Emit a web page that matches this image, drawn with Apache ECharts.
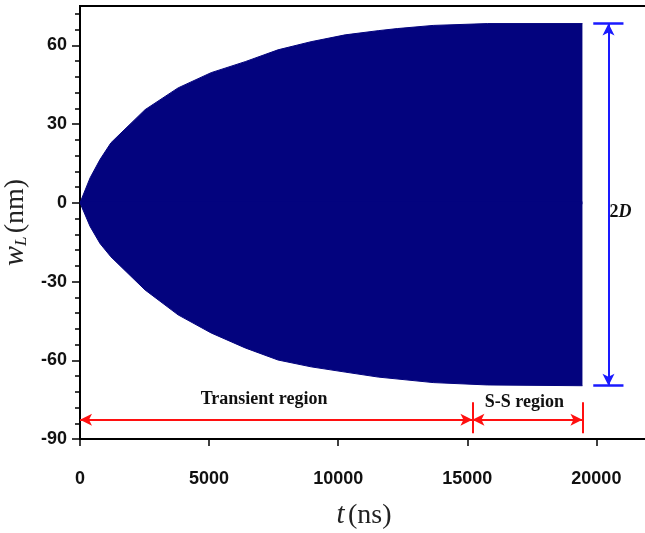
<!DOCTYPE html>
<html>
<head>
<meta charset="utf-8">
<script src="https://cdn.jsdelivr.net/npm/echarts@6/dist/echarts.min.js"></script>
<style>
html,body{margin:0;padding:0;background:#fff;}
#c{width:645px;height:533px;}
</style>
</head>
<body>
<div id="c"></div>
<script>
// Upper envelope of w_L (nm) vs t (ns)
const tUpper = [0, 390, 775, 1200, 2520, 3800, 5080, 6400, 7670, 8950, 10270, 11550, 12290, 13680, 15780, 19460];
const wUpper = [0, 9.5, 16.5, 22.9, 35.5, 43.8, 49.6, 53.8, 58.3, 61.4, 64.0, 65.6, 66.4, 67.6, 68.3, 68.3];
// Lower envelope
const tLower = [0, 390, 775, 1200, 2520, 3800, 5080, 6400, 7670, 8950, 10270, 11550, 13680, 15780, 19460];
const wLower = [0, -9, -15.5, -20.6, -33.2, -42.7, -49.6, -55.3, -59.9, -62.5, -64.5, -66.4, -68.5, -69.4, -69.7];
// Axis ticks
const xTicks = [0, 5000, 10000, 15000, 20000];
const yTicks = [-90, -60, -30, 0, 30, 60];
const yMinorTicks = [-84,-78,-72,-66,-54,-48,-42,-36,-24,-18,-12,-6,6,12,18,24,36,42,48,54,66,72];
// Axis ranges
const xMin = 0, xMax = 22000, yMin = -90, yMax = 75;
// Annotations
const transientStart = 0, transientEnd = 15200, ssEnd = 19460, regionArrowY = -82.7;
const regionBarTop = -76, regionBarBottom = -87.8;
const ampTop = 68.3, ampBottom = -69.7, ampArrowT = 20470, capStart = 19880, capEnd = 21050;

const serif = 'Liberation Serif, Times New Roman, serif';
const sans = 'Liberation Sans, Arial, sans-serif';
const chart = echarts.init(document.getElementById('c'), null, {renderer: 'canvas'});
const navy = '#03037e';
const red = '#ff1010';
const blue = '#1a1aff';

chart.setOption({
  animation: false,
  grid: {left: 80, right: -3, top: 6, bottom: 94, show: true, borderColor: '#000', borderWidth: 2,
         backgroundColor: 'transparent', containLabel: false, outerBoundsMode: 'none'},
  xAxis: [{
    type: 'value', min: xMin, max: xMax, interval: 5000,
    name: '{i|t} {n|(ns)}', nameLocation: 'middle', nameGap: 62,
    nameTextStyle: {rich: {
      i: {fontFamily: serif, fontStyle: 'italic', fontSize: 29, color: '#222'},
      n: {fontFamily: serif, fontSize: 28, color: '#222'}
    }},
    axisLine: {show: true, onZero: false, lineStyle: {color: '#000', width: 2}},
    axisTick: {show: true, inside: false, length: 7, lineStyle: {color: '#000', width: 1.5}, customValues: xTicks},
    axisLabel: {customValues: xTicks, margin: 31, fontFamily: sans, fontWeight: 'bold', fontSize: 18, color: '#111',
                formatter: v => String(v)},
    splitLine: {show: false}
  }, {
    type: 'value', min: xMin, max: xMax, position: 'top',
    axisLine: {show: true, onZero: false, lineStyle: {color: '#000', width: 2}},
    axisTick: {show: false}, axisLabel: {show: false}, splitLine: {show: false}
  }],
  yAxis: [{
    type: 'value', min: yMin, max: yMax, interval: 30,
    name: '{i|w}{s|L} {n|(nm)}', nameLocation: 'middle', nameGap: 46, nameRotate: 90,
    nameTextStyle: {rich: {
      i: {fontFamily: serif, fontStyle: 'italic', fontSize: 30, color: '#222', verticalAlign: 'bottom', lineHeight: 34},
      s: {fontFamily: serif, fontStyle: 'italic', fontSize: 17, color: '#222', verticalAlign: 'bottom', lineHeight: 25},
      n: {fontFamily: serif, fontSize: 28, color: '#222', verticalAlign: 'bottom', lineHeight: 34}
    }},
    axisLine: {show: true, onZero: false, lineStyle: {color: '#000', width: 2}},
    axisTick: {show: true, inside: false, length: 8, lineStyle: {color: '#000', width: 1.5}, customValues: yTicks},
    axisLabel: {customValues: yTicks, margin: 13, fontFamily: sans, fontWeight: 'bold', fontSize: 18, color: '#111',
                formatter: v => String(v)},
    splitLine: {show: false}
  }, {
    type: 'value', min: yMin, max: yMax, position: 'left',
    axisLine: {show: false, onZero: false},
    axisTick: {show: true, inside: false, length: 5, lineStyle: {color: '#000', width: 1.5}, customValues: yMinorTicks},
    axisLabel: {show: false},
    splitLine: {show: false}
  }],
  series: [{
    type: 'line', name: 'upper',
    data: tUpper.map((t, i) => [t, wUpper[i]]),
    smooth: false, showSymbol: false, symbol: 'none',
    lineStyle: {color: navy, width: 1},
    areaStyle: {color: navy, opacity: 1, origin: -0.5},
    z: 2
  }, {
    type: 'line', name: 'lower',
    data: tLower.map((t, i) => [t, wLower[i]]),
    smooth: false, showSymbol: false, symbol: 'none',
    lineStyle: {color: navy, width: 1},
    areaStyle: {color: navy, opacity: 1, origin: 0.5},
    z: 2,
    markLine: {
      silent: true, animation: false,
      symbol: ['arrow', 'arrow'], symbolSize: [9, 12],
      label: {show: false},
      lineStyle: {type: 'solid', width: 2},
      data: [
        [{coord: [transientStart, regionArrowY], lineStyle: {color: red, width: 2}, itemStyle: {color: red}}, {coord: [transientEnd, regionArrowY]}],
        [{coord: [transientEnd, regionArrowY], lineStyle: {color: red, width: 2}, itemStyle: {color: red}}, {coord: [ssEnd, regionArrowY]}],
        [{coord: [transientEnd, regionBarTop], symbol: 'none', lineStyle: {color: red, width: 2}}, {coord: [transientEnd, regionBarBottom], symbol: 'none'}],
        [{coord: [ssEnd, regionBarTop], symbol: 'none', lineStyle: {color: red, width: 2}}, {coord: [ssEnd, regionBarBottom], symbol: 'none'}],
        [{coord: [ampArrowT, ampTop], lineStyle: {color: blue, width: 2}, itemStyle: {color: blue}}, {coord: [ampArrowT, ampBottom]}],
        [{coord: [capStart, ampTop], symbol: 'none', lineStyle: {color: blue, width: 2.5}}, {coord: [capEnd, ampTop], symbol: 'none'}],
        [{coord: [capStart, ampBottom], symbol: 'none', lineStyle: {color: blue, width: 2.5}}, {coord: [capEnd, ampBottom], symbol: 'none'}]
      ]
    },
    markPoint: {
      silent: true, animation: false, symbol: 'circle', symbolSize: 0,
      label: {show: true, position: 'inside', color: '#111', fontFamily: serif, fontWeight: 'bold', fontSize: 18},
      data: [
        {coord: [7130, -74.7], name: 'Transient region', label: {formatter: 'Transient region'}},
        {coord: [17210, -75.9], name: 'S-S region', label: {formatter: 'S-S region'}},
        {coord: [20930, -3.5], name: '2D', label: {
          formatter: '{a|2}{b|D}',
          rich: {
            a: {fontFamily: serif, fontWeight: 'bold', fontSize: 18, color: '#111'},
            b: {fontFamily: serif, fontWeight: 'bold', fontStyle: 'italic', fontSize: 18, color: '#111'}
          }
        }}
      ]
    }
  }]
});
</script>
</body>
</html>
